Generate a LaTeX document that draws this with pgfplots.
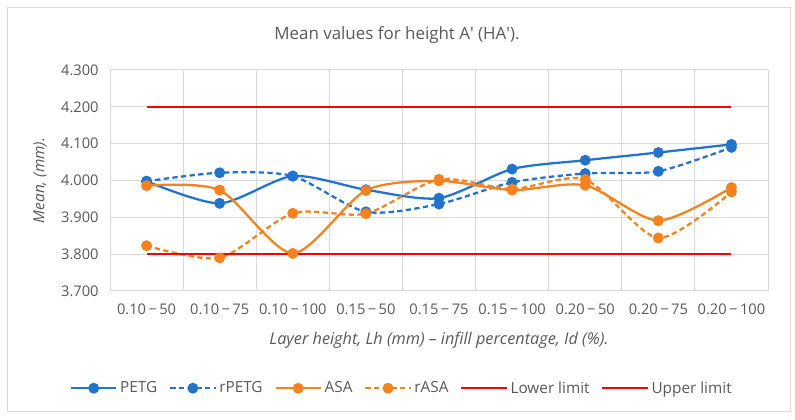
\documentclass[border=0pt]{standalone}
\usepackage{pgfplots}
\pgfplotsset{compat=1.18}
\usepackage{fontspec}
\setmainfont{Open Sans}
\definecolor{exblue}{HTML}{2273CC}
\definecolor{exorange}{HTML}{F5821F}
\definecolor{exred}{HTML}{FF0000}
\definecolor{txtgray}{HTML}{595959}
\definecolor{gridgray}{HTML}{D9D9D9}
\begin{document}
\begin{tikzpicture}
\path[use as bounding box] (0,0) rectangle (596.25pt,315pt);
\draw[gridgray, line width=0.75pt] (5.25pt,6pt) rectangle (592.5pt,309pt);
\node[txtgray, font=\fontsize{12.7}{14}\selectfont] at (297.75pt,288.5pt) {Mean values for height A\textquotesingle{} (HA\textquotesingle).};
\begin{axis}[
  at={(82.5pt,96.75pt)}, anchor=south west,
  scale only axis, width=493.5pt, height=165.75pt,
  xmin=0.5, xmax=9.5, ymin=3.7, ymax=4.3,
  xtick={1,...,9},
  xticklabels={0.10\,−\,50,0.10\,−\,75,0.10\,−\,100,0.15\,−\,50,0.15\,−\,75,0.15\,−\,100,0.20\,−\,50,0.20\,−\,75,0.20\,−\,100},
  minor xtick={0.5,1.5,...,9.5},
  xminorgrids, ymajorgrids,
  ytick={3.7,3.8,...,4.3},
  major tick length=0pt, minor tick length=0pt,
  grid style={gridgray, line width=0.75pt},
  minor grid style={gridgray, line width=0.75pt},
  axis line style={draw=none},
  /pgf/number format/assume math mode=true,
  /pgf/number format/fixed, /pgf/number format/fixed zerofill, /pgf/number format/precision=3,
  ticklabel style={font=\fontsize{11}{12}\selectfont, text=txtgray},
  yticklabel style={xshift=-5pt},
  xticklabel style={yshift=-6pt},
  xlabel={\itshape Layer height, Lh (mm) – infill percentage, Id (\%).},
  ylabel={\itshape Mean, (mm).},
  xlabel style={font=\fontsize{12.2}{14}\selectfont, text=txtgray, yshift=-6pt},
  ylabel style={font=\fontsize{11.5}{14}\selectfont, text=txtgray, yshift=4pt},
  legend style={at={(0.444,-0.44)}, anchor=center, draw=none, fill=none,
    font=\fontsize{11.5}{13}\selectfont, text=txtgray,
    /tikz/every even column/.append style={column sep=6.8pt}},
  legend columns=6,
  legend image code/.code={\draw[#1] (0pt,0pt) -- (34pt,0pt); \path[#1, solid] plot coordinates {(17pt,0pt)};},
  every axis plot/.append style={line width=1.7pt},
]
\addplot[exblue, smooth, tension=0.45, mark=*, mark size=3.2pt, mark options={solid}] coordinates {
(1,3.998) (2,3.938) (3,4.012) (4,3.975) (5,3.952) (6,4.031) (7,4.055) (8,4.076) (9,4.098)};
\addlegendentry{PETG}
\addplot[exblue, smooth, tension=0.45, dash pattern=on 4pt off 2.5pt, mark=*, mark size=3.2pt, mark options={solid}] coordinates {
(1,3.998) (2,4.021) (3,4.012) (4,3.915) (5,3.936) (6,3.995) (7,4.019) (8,4.025) (9,4.090)};
\addlegendentry{rPETG}
\addplot[exorange, smooth, tension=0.45, mark=*, mark size=3.2pt, mark options={solid}] coordinates {
(1,3.986) (2,3.974) (3,3.802) (4,3.973) (5,3.999) (6,3.974) (7,3.987) (8,3.891) (9,3.981)};
\addlegendentry{ASA}
\addplot[exorange, smooth, tension=0.45, dash pattern=on 4pt off 2.5pt, mark=*, mark size=3.2pt, mark options={solid}] coordinates {
(1,3.823) (2,3.790) (3,3.911) (4,3.910) (5,4.003) (6,3.977) (7,4.003) (8,3.844) (9,3.969)};
\addlegendentry{rASA}
\addplot[exred, mark=none] coordinates {(1,3.8) (9,3.8)};
\addlegendentry{Lower limit}
\addplot[exred, mark=none] coordinates {(1,4.2) (9,4.2)};
\addlegendentry{Upper limit}
\end{axis}
\end{tikzpicture}
\end{document}
